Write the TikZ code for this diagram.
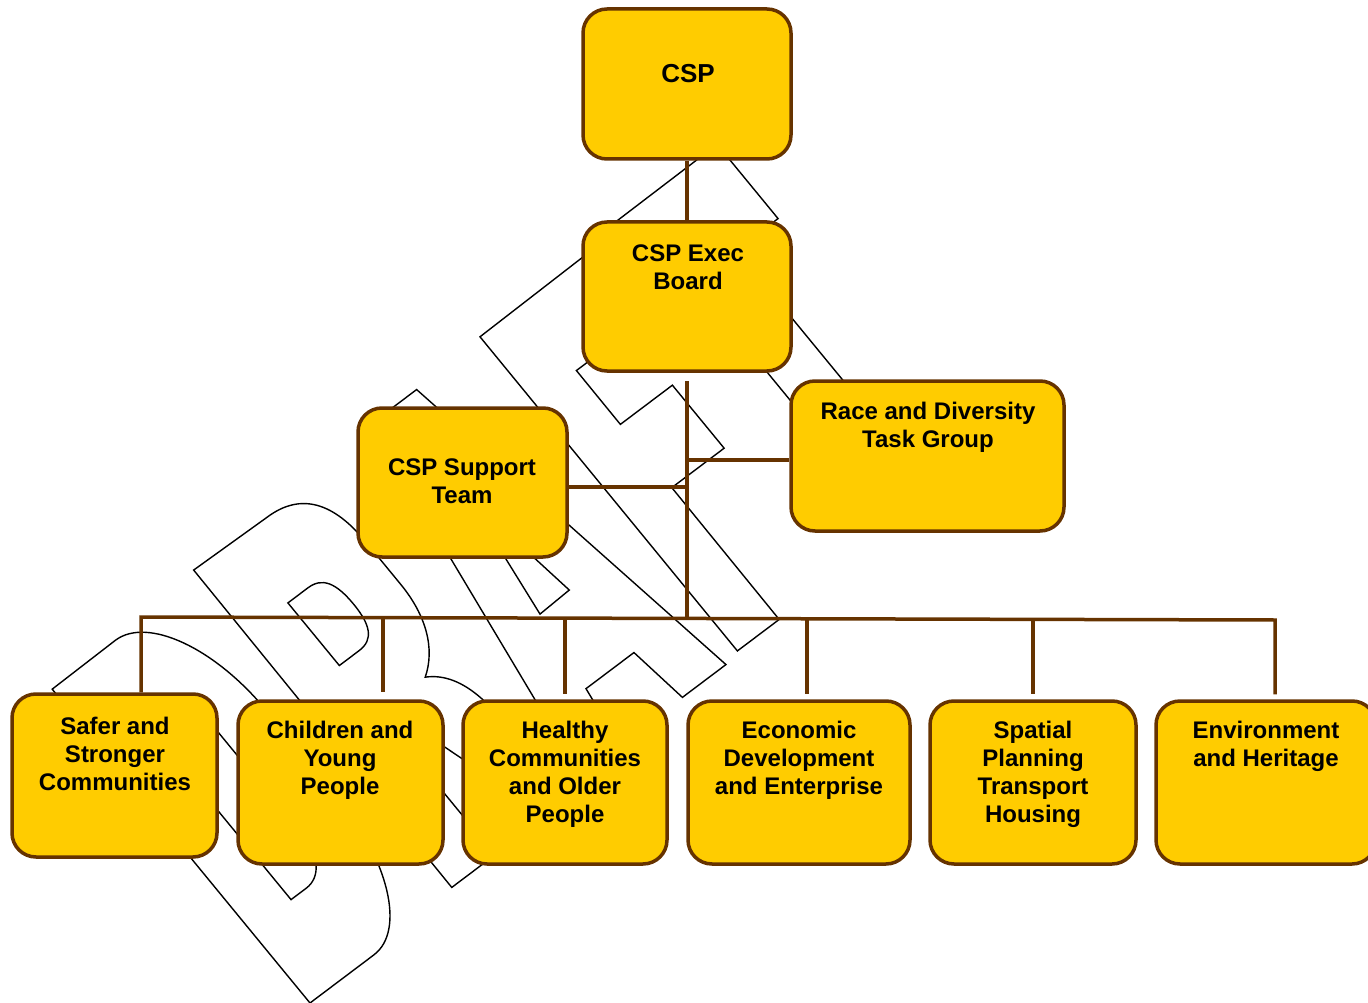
\documentclass[tikz,border=0pt]{standalone}
\usepackage{fontspec}
\setmainfont{Liberation Sans}
\usetikzlibrary{calc}
\definecolor{boxfill}{HTML}{FFCC00}
\definecolor{boxline}{HTML}{663300}
\begin{document}
\begin{tikzpicture}[x=1pt,y=-1pt,
  orgbox/.style={draw=boxline, line width=3.5pt, fill=boxfill, rounded corners=24pt, inner sep=0pt},
  lbl/.style={font=\bfseries\fontsize{24}{28}\selectfont, align=center, inner sep=0pt, text=black},
  link/.style={draw=boxline, line width=3.5pt, line join=miter},
  wm/.style={draw=black, line width=1.4pt, line join=miter}]
\useasboundingbox (0,0) rectangle (1368,1003);

% DRAFT watermark (outlined letters)
\begin{scope}[shift={(310,1003)}, x={(0.799pt,0.602pt)}, y={(-0.635pt,0.773pt)}]
  % D
  \draw[wm] (0,0) -- (80,0) .. controls (119.8,0) and (152,67) .. (152,150) -- (152,260)
     .. controls (152,341) and (119.8,407) .. (80,407) -- (0,406) -- cycle;
  \draw[wm] (51,94) -- (70,94) .. controls (88,94) and (101,112) .. (101,140) -- (101,280)
     .. controls (101,305) and (88,320) .. (70,320) -- (51,320) -- cycle;
  % R
  \draw[wm] (183,7) -- (185,416) -- (275,414) .. controls (318,414) and (336,385) .. (336,335)
     -- (336,280) .. controls (336,240) and (322,208) .. (296,191)
     .. controls (312,182) and (322,165) .. (326,140) -- (345,7) -- (302,7) -- (252,172)
     -- (237,172) -- (237,7) -- cycle;
  \draw[wm] (237,252) -- (262,252) .. controls (280,252) and (287,266) .. (287,292)
     .. controls (287,320) and (280,333) .. (262,333) -- (237,333) -- cycle;
  % A
  \draw[wm] (353.6,20) -- (414.3,426) -- (472,426) -- (536.5,20) -- (482,20) -- (473,85)
     -- (413,85) -- (403.4,20) -- cycle;
  \draw[wm] (424.8,172.3) -- (443.3,310.4) -- (462.7,173.9) -- cycle;
  % F
  \draw[wm] (554,24) -- (554.5,430) -- (700,432) -- (700,345) -- (607.6,345) -- (607.4,275.5)
     -- (672.5,275.5) -- (672.5,194) -- (607,194) -- (606.3,24) -- cycle;
  % T
  \draw[wm] (754,30) -- (754,345) -- (708,345) -- (708,440) -- (860,441) -- (860,345)
     -- (807.5,345) -- (807.5,30) -- cycle;
\end{scope}

% boxes
\node[orgbox, minimum width=208pt, minimum height=150pt] (csp) at (687,84) {};
\node[orgbox, minimum width=208pt, minimum height=149pt] (exec) at (687,296.5) {};
\node[orgbox, minimum width=273pt, minimum height=150pt] (race) at (927.5,456) {};
\node[orgbox, minimum width=209pt, minimum height=149pt] (support) at (462.5,482.5) {};
\node[orgbox, minimum width=205pt, minimum height=163pt] (safer) at (114.5,775.5) {};
\node[orgbox, minimum width=205pt, minimum height=163pt] (children) at (340.5,782.5) {};
\node[orgbox, minimum width=204pt, minimum height=163pt] (healthy) at (565,782.5) {};
\node[orgbox, minimum width=222pt, minimum height=163pt] (econ) at (799,782.5) {};
\node[orgbox, minimum width=206pt, minimum height=163pt] (spatial) at (1033,782.5) {};
\node[orgbox, minimum width=220pt, minimum height=163pt] (env) at (1266,782.5) {};

% labels
\node[lbl, font=\bfseries\fontsize{26}{30}\selectfont] (tcsp) at (688,74) {CSP};
\node[lbl] (texec) at (688,267) {CSP Exec\\Board};
\node[lbl] (trace) at (928,427) {Race and Diversity\\Task Group};
\node[lbl] (tsupport) at (462,481) {CSP Support\\Team};
\node[lbl] (tsafer) at (115,754) {Safer and\\Stronger\\Communities};
\node[lbl] (tchildren) at (340,760) {Children and\\Young\\People};
\node[lbl] (thealthy) at (565,774) {Healthy\\Communities\\and Older\\People};
\node[lbl] (tecon) at (799,760) {Economic\\Development\\and Enterprise};
\node[lbl] (tspatial) at (1033,774) {Spatial\\Planning\\Transport\\Housing};
\node[lbl] (tenv) at (1266,746) {Environment\\and Heritage};

% connectors
\coordinate (busL) at (141,617);
\coordinate (busR) at (1275,620);
\coordinate (bT) at (687,618.5);
\coordinate (jR) at (687,460);
\coordinate (jS) at (687,487);
\coordinate (dC) at (383,618);
\coordinate (dH) at (565,618.5);
\coordinate (dE) at (807,619);
\coordinate (dS) at (1033,619.5);

\draw[link] (csp.south) -- (exec.north);
\draw[link] ([yshift=-8pt]exec.south) -- (bT);
\draw[link] (jR) -- (jR -| race.west);
\draw[link] (support.east |- jS) -- (jS);
\draw[link] (busL |- safer.north) -- (busL) -- (busR) -- ($(busR |- env.north)+(0,-5)$);
\draw[link] (dC) -- ($(dC |- children.north)+(0,-7)$);
\draw[link] (dH) -- ($(dH |- healthy.north)+(0,-5)$);
\draw[link] (dE) -- ($(dE |- econ.north)+(0,-5)$);
\draw[link] (dS) -- ($(dS |- spatial.north)+(0,-5)$);
\end{tikzpicture}
\end{document}
